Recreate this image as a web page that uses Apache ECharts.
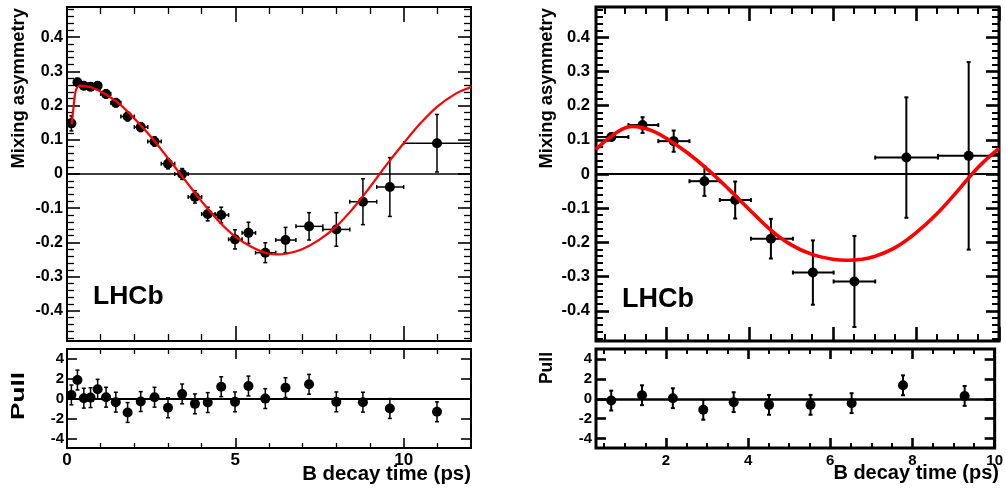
<!DOCTYPE html>
<html><head><meta charset="utf-8">
<script src="https://cdn.jsdelivr.net/npm/echarts@6/dist/echarts.min.js"></script>
<style>html,body{margin:0;padding:0;background:#fff;}#c{width:1006px;height:489px;}</style>
</head><body><div id="c"></div>
<script>
const FONT = '"Liberation Sans", Arial, Helvetica, sans-serif';

// ---------- Left panel data ----------
const leftTime     = [0.13, 0.31, 0.50, 0.70, 0.91, 1.16, 1.45, 1.80, 2.19, 2.60, 3.00, 3.42, 3.80, 4.18, 4.58, 4.99, 5.39, 5.89, 6.49, 7.19, 8.00, 8.79, 9.59, 10.99];
const leftAsym     = [0.148, 0.268, 0.258, 0.255, 0.258, 0.234, 0.208, 0.168, 0.137, 0.095, 0.030, 0.000, -0.067, -0.117, -0.120, -0.191, -0.172, -0.230, -0.193, -0.153, -0.162, -0.081, -0.038, 0.090];
const leftAsymErr  = [0.022, 0.011, 0.011, 0.011, 0.011, 0.012, 0.012, 0.013, 0.013, 0.014, 0.015, 0.016, 0.018, 0.020, 0.023, 0.028, 0.031, 0.029, 0.037, 0.040, 0.049, 0.067, 0.086, 0.084];
const leftBinLo    = [0.03, 0.2, 0.4, 0.6, 0.8, 1.0, 1.3, 1.6, 2.0, 2.4, 2.8, 3.2, 3.6, 4.0, 4.4, 4.8, 5.2, 5.6, 6.2, 6.8, 7.6, 8.4, 9.2, 10.0];
const leftBinHi    = [0.2, 0.4, 0.6, 0.8, 1.0, 1.3, 1.6, 2.0, 2.4, 2.8, 3.2, 3.6, 4.0, 4.4, 4.8, 5.2, 5.6, 6.2, 6.8, 7.6, 8.4, 9.2, 10.0, 12.0];
const leftPull     = [0.4, 1.9, 0.07, 0.13, 0.97, 0.17, -0.33, -1.37, -0.27, 0.17, -0.9, 0.5, -0.5, -0.37, 1.23, -0.3, 1.3, 0.03, 1.13, 1.47, -0.3, -0.33, -0.97, -1.3];
const leftFitTime  = [0.14, 0.17, 0.20, 0.23, 0.27, 0.32, 0.40, 0.50, 0.75, 1.0, 1.5, 2.0, 2.5, 3.0, 3.5, 4.0, 4.5, 5.0, 5.5, 6.0, 6.25, 6.5, 7.0, 7.5, 8.0, 8.5, 9.0, 9.5, 10.0, 10.5, 11.0, 11.5, 12.0];
const leftFitAsym  = [0.145, 0.175, 0.200, 0.228, 0.247, 0.255, 0.258, 0.257, 0.252, 0.241, 0.209, 0.162, 0.108, 0.046, -0.017, -0.080, -0.137, -0.183, -0.214, -0.233, -0.235, -0.233, -0.219, -0.192, -0.153, -0.100, -0.038, 0.028, 0.090, 0.148, 0.197, 0.232, 0.254];

// ---------- Right panel data ----------
const rightTime    = [0.67, 1.42, 2.17, 2.91, 3.65, 4.51, 5.52, 6.52, 7.77, 9.27];
const rightAsym    = [0.108, 0.143, 0.096, -0.021, -0.076, -0.189, -0.288, -0.314, 0.048, 0.053];
const rightAsymErr = [0.010, 0.023, 0.031, 0.043, 0.054, 0.058, 0.094, 0.133, 0.176, 0.274];
const rightBinLo   = [0.30, 1.08, 1.80, 2.55, 3.28, 4.03, 5.04, 6.02, 7.02, 8.53];
const rightBinHi   = [1.08, 1.80, 2.55, 3.28, 4.03, 5.04, 6.02, 7.02, 8.53, 10.0];
const rightPull    = [-0.17, 0.37, 0.07, -1.1, -0.33, -0.6, -0.6, -0.43, 1.37, 0.3];
const rightFitTime = [0.3, 0.6, 0.9, 1.15, 1.4, 1.7, 2.0, 2.5, 3.0, 3.5, 4.0, 4.5, 5.0, 5.5, 6.0, 6.35, 6.7, 7.0, 7.5, 8.0, 8.5, 9.0, 9.5, 10.0];
const rightFitAsym = [0.072, 0.104, 0.129, 0.139, 0.136, 0.124, 0.104, 0.062, 0.012, -0.045, -0.105, -0.163, -0.207, -0.235, -0.249, -0.252, -0.249, -0.241, -0.215, -0.172, -0.117, -0.050, 0.020, 0.075];

// ---------- Tick labels ----------
const asymTickLabels      = [-0.4, -0.3, -0.2, -0.1, 0, 0.1, 0.2, 0.3, 0.4];
const pullTickLabels      = [-4, -2, 0, 2, 4];
const leftTimeTickLabels  = [0, 5, 10];
const rightTimeTickLabels = [2, 4, 6, 8, 10];

// ---------- Text ----------
const yTitle = 'Mixing asymmetry';
const pullTitle = 'Pull';
const xTitle = 'B decay time (ps)';
const experiment = 'LHCb';

function steps(a, b, s) { const o = []; for (let v = a; v <= b + 1e-9; v += s) o.push(+v.toFixed(4)); return o; }
function without(list, majors) { return list.filter(v => !majors.some(m => Math.abs(m - v) < 1e-6)); }

const asymMinor = without(steps(-0.48, 0.48, 0.02), asymTickLabels);
const leftTimeMinor = without(steps(1, 11, 1), leftTimeTickLabels);
const rightTimeMinor = without(steps(0.5, 9.5, 0.5), rightTimeTickLabels);

const xAxes = [], yAxes = [];
function tickAxis(kind, grid, min, max, pos, ticks, len, w, label) {
  const o = {
    type: 'value', gridIndex: grid, min: min, max: max, position: pos,
    axisLine: { show: false, onZero: false },
    axisTick: { show: true, inside: true, length: len, customValues: ticks, lineStyle: { color: '#000', width: w } },
    axisLabel: label ? Object.assign({ show: true, color: '#000', fontFamily: FONT, fontWeight: 'bold' }, label) : { show: false },
    splitLine: { show: false }, axisPointer: { show: false }
  };
  if (kind === 'x') { xAxes.push(o); return xAxes.length - 1; }
  yAxes.push(o); return yAxes.length - 1;
}
function panel(g, xr, yr, xMaj, xMin, yMaj, yMin, c) {
  const xi = tickAxis('x', g, xr[0], xr[1], 'bottom', xMaj, c.xMajLen, c.tw, c.xLabel);
  tickAxis('x', g, xr[0], xr[1], 'bottom', xMin, c.xMinLen, c.tw2, null);
  tickAxis('x', g, xr[0], xr[1], 'top', xMaj, c.xMajLen, c.tw, null);
  tickAxis('x', g, xr[0], xr[1], 'top', xMin, c.xMinLen, c.tw2, null);
  const yi = tickAxis('y', g, yr[0], yr[1], 'left', yMaj, c.yMajLen, c.tw, c.yLabel);
  if (yMin) tickAxis('y', g, yr[0], yr[1], 'left', yMin, c.yMinLen, c.tw2, null);
  tickAxis('y', g, yr[0], yr[1], 'right', yMaj, c.yMajLen, c.tw, null);
  if (yMin) tickAxis('y', g, yr[0], yr[1], 'right', yMin, c.yMinLen, c.tw2, null);
  return { xi, yi };
}

const asymFmt = v => (Math.abs(v) < 1e-9 ? '0' : v.toFixed(1));
const intFmt = v => String(v);

const ASYM = [-0.488, 0.488], PULL = [-4.95, 5.03];
const LT = [0, 12], RT = [0.3, 10];

const grids = [
  { left: 67, top: 7, width: 404, height: 334 },
  { left: 67, top: 349, width: 404, height: 99 },
  { left: 596, top: 7, width: 403, height: 334 },
  { left: 596, top: 349, width: 403, height: 99 }
].map((g, i) => Object.assign({ show: true, borderColor: '#000', borderWidth: i < 2 ? 2 : 3, backgroundColor: 'transparent', containLabel: false }, g));

const p0 = panel(0, LT, ASYM, leftTimeTickLabels, leftTimeMinor, asymTickLabels, asymMinor,
  { xMajLen: 15, xMinLen: 7, yMajLen: 13, yMinLen: 7, tw: 1.6, tw2: 1.3, xLabel: null,
    yLabel: { customValues: asymTickLabels, formatter: asymFmt, fontSize: 16, margin: 4 } });
const p1 = panel(1, LT, PULL, leftTimeTickLabels, leftTimeMinor, pullTickLabels, null,
  { xMajLen: 10, xMinLen: 5, yMajLen: 10, yMinLen: 5, tw: 1.6, tw2: 1.3,
    xLabel: { customValues: leftTimeTickLabels, formatter: intFmt, fontSize: 17, margin: 4 },
    yLabel: { customValues: pullTickLabels, formatter: intFmt, fontSize: 15, margin: 3 } });
const p2 = panel(2, RT, ASYM, rightTimeTickLabels, rightTimeMinor, asymTickLabels, asymMinor,
  { xMajLen: 14, xMinLen: 7, yMajLen: 13, yMinLen: 7, tw: 2.6, tw2: 2, xLabel: null,
    yLabel: { customValues: asymTickLabels, formatter: asymFmt, fontSize: 16.5, margin: 6 } });
const p3 = panel(3, RT, PULL, rightTimeTickLabels, rightTimeMinor, pullTickLabels, null,
  { xMajLen: 10, xMinLen: 5, yMajLen: 10, yMinLen: 5, tw: 2.6, tw2: 2,
    xLabel: { customValues: rightTimeTickLabels, formatter: intFmt, fontSize: 15, margin: 5 },
    yLabel: { customValues: pullTickLabels, formatter: intFmt, fontSize: 15, margin: 4 } });

function errRender(cap, lw) {
  return function (params, api) {
    const x = api.value(0), y = api.value(1);
    const a = api.coord([api.value(2), y]), b = api.coord([api.value(3), y]);
    const d = api.coord([x, api.value(4)]), e = api.coord([x, api.value(5)]);
    const style = { stroke: '#000', lineWidth: lw };
    const ch = [];
    if (b[0] - a[0] > 0.5) {
      ch.push({ type: 'line', shape: { x1: a[0], y1: a[1], x2: b[0], y2: b[1] }, style });
      ch.push({ type: 'line', shape: { x1: a[0], y1: a[1] - cap, x2: a[0], y2: a[1] + cap }, style });
      ch.push({ type: 'line', shape: { x1: b[0], y1: b[1] - cap, x2: b[0], y2: b[1] + cap }, style });
    }
    ch.push({ type: 'line', shape: { x1: d[0], y1: d[1], x2: e[0], y2: e[1] }, style });
    ch.push({ type: 'line', shape: { x1: d[0] - cap, y1: d[1], x2: d[0] + cap, y2: d[1] }, style });
    ch.push({ type: 'line', shape: { x1: e[0] - cap, y1: e[1], x2: e[0] + cap, y2: e[1] }, style });
    return { type: 'group', children: ch };
  };
}

function mainSeries(p, t, v, err, lo, hi, ft, fv, lw, clw, zlw) {
  return [
    { type: 'custom', xAxisIndex: p.xi, yAxisIndex: p.yi, renderItem: errRender(2, lw), clip: true, z: 2,
      encode: { x: 0, y: 1 },
      data: t.map((x, i) => [x, v[i], lo[i], hi[i], v[i] - err[i], v[i] + err[i]]),
      markLine: { silent: true, symbol: 'none', z: 1, label: { show: false }, lineStyle: { color: '#000', width: zlw, type: 'solid' }, data: [{ yAxis: 0 }], animation: false } },
    { type: 'scatter', xAxisIndex: p.xi, yAxisIndex: p.yi, symbol: 'circle', symbolSize: 10, z: 3,
      itemStyle: { color: '#000', opacity: 1 }, data: t.map((x, i) => [x, v[i]]) },
    { type: 'line', xAxisIndex: p.xi, yAxisIndex: p.yi, showSymbol: false, symbol: 'none', smooth: 0.4, z: 4,
      lineStyle: { color: '#ff0000', width: clw }, data: ft.map((x, i) => [x, fv[i]]) }
  ];
}
function pullSeries(p, t, v, lw, zlw) {
  return [
    { type: 'custom', xAxisIndex: p.xi, yAxisIndex: p.yi, renderItem: errRender(2, lw), clip: true, z: 2,
      encode: { x: 0, y: 1 },
      data: t.map((x, i) => [x, v[i], x, x, v[i] - 1, v[i] + 1]),
      markLine: { silent: true, symbol: 'none', z: 1, label: { show: false }, lineStyle: { color: '#000', width: zlw, type: 'solid' }, data: [{ yAxis: 0 }], animation: false } },
    { type: 'scatter', xAxisIndex: p.xi, yAxisIndex: p.yi, symbol: 'circle', symbolSize: 10, z: 3,
      itemStyle: { color: '#000', opacity: 1 }, data: t.map((x, i) => [x, v[i]]) }
  ];
}

function txt(text, x, y, size, align, rot, sx) {
  return { type: 'text', x: x, y: y, rotation: rot || 0, scaleX: sx || 1, z: 10,
    style: { text: text, fontFamily: FONT, fontWeight: 'bold', fontSize: size, fill: '#000',
      align: align, textAlign: align, verticalAlign: 'middle', textVerticalAlign: 'middle' } };
}

const option = {
  animation: false,
  backgroundColor: '#fff',
  grid: grids,
  xAxis: xAxes,
  yAxis: yAxes,
  series: [].concat(
    mainSeries(p0, leftTime, leftAsym, leftAsymErr, leftBinLo, leftBinHi, leftFitTime, leftFitAsym, 1.5, 2.2, 1.5),
    pullSeries(p1, leftTime, leftPull, 1.5, 2),
    mainSeries(p2, rightTime, rightAsym, rightAsymErr, rightBinLo, rightBinHi, rightFitTime, rightFitAsym, 2, 3.6, 2),
    pullSeries(p3, rightTime, rightPull, 2, 2.5)
  ),
  graphic: [
    txt(yTitle, 18.5, 8, 18.4, 'right', Math.PI / 2),
    txt(yTitle, 546.5, 8, 18.4, 'right', Math.PI / 2),
    txt(pullTitle, 19, 372, 19, 'right', Math.PI / 2, 1.38),
    txt(pullTitle, 547.5, 352, 17.5, 'right', Math.PI / 2),
    txt(experiment, 93, 297, 26.5, 'left'),
    txt(experiment, 622, 299.5, 27, 'left'),
    txt(xTitle, 471, 474, 20.4, 'right'),
    txt(xTitle, 999, 473, 20, 'right')
  ]
};

const chart = echarts.init(document.getElementById('c'), null, { renderer: 'canvas' });
chart.setOption(option);
</script>
</body></html>
